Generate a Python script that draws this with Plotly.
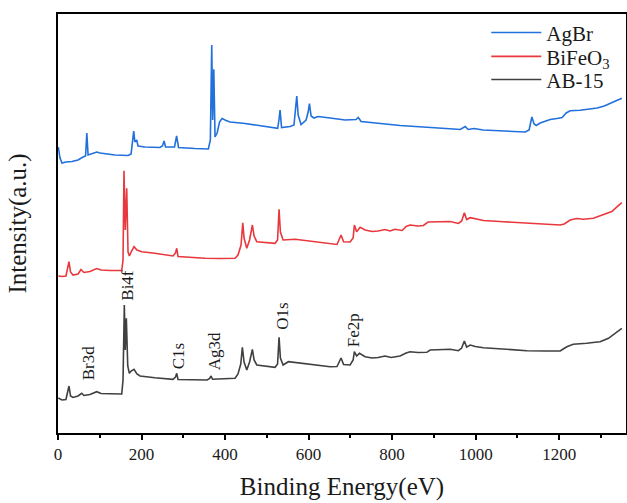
import plotly.graph_objects as go

# ---------------- data (binding energy eV, intensity a.u. with vertical offsets) -------------
agbr_e = [0.7, 4.8, 9.6, 19, 33.5, 48, 60, 66, 69, 72, 79, 93, 100.6, 136.5, 167.7, 175, 181.3, 184,
          188.5, 191.6, 208, 244, 250, 254, 257.5, 279, 284, 288.6, 328, 360, 364.8, 368.1, 370.3,
          373, 376, 381, 386.8, 392.8, 402.4, 412, 448, 484, 526, 529, 531.7, 535.3, 555.7, 565,
          569, 571.7, 575, 582, 594, 599, 602, 606, 613, 622.8, 651.5, 687.4, 713.8, 719, 725.7,
          771, 819, 874, 915, 955.7, 963, 975, 982, 996, 1018, 1059, 1090, 1118.5, 1128, 1134.6,
          1140, 1145, 1154.5, 1166.5, 1178.4, 1194.5, 1207, 1216.8, 1226.3, 1250, 1274, 1291, 1308,
          1322, 1336.5, 1350]
agbr_i = [286, 275, 270, 271, 271.5, 273, 276, 277, 300, 278, 279, 281, 280, 278, 277.5, 279, 302, 291,
          293, 287, 286, 285.5, 287, 292, 286, 286, 297, 285.5, 284.5, 284, 293, 388, 313,
          363.7, 296, 300, 311, 314.5, 312.5, 311, 309.5, 307.5, 304.7, 313, 323, 305.5, 306.5, 308,
          323, 337, 318, 308.5, 313, 321, 329.5, 317, 315, 316.5, 315, 313, 313.5, 315.5, 311.5,
          309.5, 307.5, 306, 304.5, 303.7, 303.5, 306.5, 303.5, 304.5, 303, 302, 301, 301, 303, 316,
          309, 307.5, 310, 311.5, 313.5, 314.5, 315.5, 320, 322.3, 322.7, 324, 325, 327,
          329.5, 332, 334.7]

bfo_e = [0.7, 9.6, 19, 24, 26.3, 30, 36, 48, 55, 62, 76.6, 92.7, 103, 124.5, 152.6, 155.7, 158, 161,
         164.5, 167.7, 171, 175, 182, 189, 200.5, 232, 275.4, 281.4, 284.3, 287.4, 316, 352, 388,
         424, 431, 438.3, 442.4, 445.5, 452, 458.7, 465.4, 469.5, 476, 495.8, 519.8, 525.7, 529.3,
         532.5, 539, 567.7, 615.6, 651.5, 668, 677.8, 683.8, 699.4, 706.6, 709.7, 715, 723.4, 735.3,
         752, 766.5, 783, 795, 807, 824, 833.5, 843, 862, 875, 886, 915, 939, 958.8, 966.5, 973,
         978.4, 987, 999, 1018.7, 1066.6, 1122.6, 1166.5, 1202.4, 1212, 1226.3, 1242.4, 1257.5,
         1282, 1306, 1326, 1339, 1350]
bfo_i = [157, 156.5, 157, 165, 171.3, 161, 158, 159, 163.5, 160.5, 161.5, 164.5, 163, 162.5, 162.5, 173,
         262.3, 203, 244.7, 181, 177, 181, 186.3, 183, 181.3, 179.7, 177, 180, 184.7, 176.5, 175.5,
         174.7, 174.5, 174.7, 178, 188, 210.3, 195, 184.7, 193, 208, 197, 191.3, 190.5, 189.7, 193,
         223.7, 201, 193, 193.7, 191.3, 189.5, 188.5, 198, 191.3, 191, 195, 208, 201.3, 205.7, 203,
         201.5, 202, 203.5, 202, 203.7, 202.5, 206.5, 208, 207, 207.5, 211, 211, 211.5, 209.5, 212,
         220.3, 213.5, 215.3, 214, 212.5, 211.2, 209.7, 208.7, 208, 209, 213, 214.5, 213.8,
         214.7, 218, 221.5, 226.3, 230.3]

ab15_e = [0.7, 9.6, 19, 24, 26.3, 30, 36, 48, 56.8, 62, 76.6, 92.7, 103, 124.5, 152.6, 155.7, 158.8,
          161, 163.6, 167, 170.8, 175, 182, 189, 196.4, 232, 275.4, 281.4, 284.3, 287.4, 316, 357,
          363, 366.5, 370, 388, 424, 431, 437.6, 441.4, 445.5, 452, 458.7, 465.4, 469.5, 476, 495.8,
          519.8, 525.7, 529.3, 532.5, 539, 551.6, 583.7, 615.6, 651.5, 668, 677.8, 683.8, 699.4,
          706.6, 709.7, 715, 721.7, 735.3, 752, 766.5, 783, 797.6, 819, 833.5, 843, 862, 883, 891,
          915, 939, 958.8, 966.5, 973, 978.4, 987, 999, 1018.7, 1066.6, 1122.6, 1166.5, 1202.4,
          1209.6, 1218.4, 1233.5, 1250, 1266, 1281, 1298, 1318, 1334, 1350]
ab15_i = [35, 33, 33.5, 41, 47, 37, 35.5, 37, 39.7, 37.5, 38.5, 41.3, 39.5, 39.2, 39, 53, 128,
          83, 114.7, 67, 59.7, 62, 63.7, 59, 57, 55.3, 53.7, 56, 59.7, 53.5, 53.5, 53,
          54.5, 57, 53.7, 54, 54.7, 59, 69, 85.7, 71, 63, 71, 83.7, 73, 68, 67,
          65.7, 69, 95.7, 75, 68, 71.3, 69.7, 68, 66.3, 66.5, 75, 68.5, 68,
          73, 81.3, 77, 79.7, 76.3, 75, 75.5, 77, 75.5, 77, 80, 81.3, 80.5, 80.7, 83,
          83.2, 83.7, 82.3, 85, 92, 86, 88, 86.5, 85.3, 83.7, 82.3, 82, 82,
          84, 86.3, 88.7, 89, 89.7, 90.5, 91.3, 94.7, 99.7, 104.7]

series_names = ["AgBr", "BiFeO<sub>3</sub>", "AB-15"]
series_colors = ["#2170dc", "#e8383d", "#404040"]

peak_labels = ["Br3d", "Bi4f", "C1s", "Ag3d", "O1s", "Fe2p"]
peak_label_e = [72.6, 164.5, 288, 374, 536, 707]
peak_label_i = [70, 148, 77, 82, 117, 103]

x_ticks = [0, 200, 400, 600, 800, 1000, 1200]

# ---------------- figure ----------------
FONT = "Liberation Serif"
TXT = "#1a1a1a"
legend_ids = ["legend", "legend2", "legend3"]
legend_rows_y = [0.955, 0.898, 0.843]

fig = go.Figure()
for e, i, name, col, lg in zip([agbr_e, bfo_e, ab15_e], [agbr_i, bfo_i, ab15_i],
                               series_names, series_colors, legend_ids):
    fig.add_trace(go.Scatter(x=e, y=i, mode="lines", name=name, legend=lg,
                             line=dict(color=col, width=1.6)))

for lab, e, i in zip(peak_labels, peak_label_e, peak_label_i):
    fig.add_annotation(x=e, y=i, xref="x", yref="y", text=lab, textangle=-90,
                       showarrow=False, font=dict(family=FONT, size=17, color=TXT))

legend_style = dict(x=0.754, xanchor="left", yanchor="middle", itemwidth=50,
                    font=dict(family=FONT, size=21, color=TXT),
                    bgcolor="rgba(0,0,0,0)", borderwidth=0)

fig.update_layout(
    template="none",
    width=627, height=503,
    margin=dict(l=58, r=1, t=14, b=70),
    paper_bgcolor="white", plot_bgcolor="white",
    font=dict(family=FONT, color="black"),
    showlegend=True,
    legend=dict(y=legend_rows_y[0], **legend_style),
    legend2=dict(y=legend_rows_y[1], **legend_style),
    legend3=dict(y=legend_rows_y[2], **legend_style),
)
fig.update_xaxes(range=[0, 1360], tickvals=x_ticks, ticks="outside", ticklen=5, tickwidth=2,
                 tickcolor="black", showline=True, linecolor="black", linewidth=2, mirror=True,
                 showgrid=False, zeroline=False,
                 tickfont=dict(family=FONT, size=17, color=TXT),
                 minor=dict(dtick=100, tick0=0, ticks="outside", ticklen=3, tickwidth=2,
                            tickcolor="black", showgrid=False),
                 title=dict(text="Binding Energy(eV)", standoff=14,
                            font=dict(family=FONT, size=25, color=TXT)),
                 automargin=False)
fig.update_yaxes(range=[0, 419], showticklabels=False, ticks="", showline=True,
                 linecolor="black", linewidth=2, mirror=True, showgrid=False, zeroline=False,
                 title=dict(text="Intensity(a.u.)", standoff=22,
                            font=dict(family=FONT, size=25, color=TXT)),
                 automargin=False)

fig.write_html("out.html")
